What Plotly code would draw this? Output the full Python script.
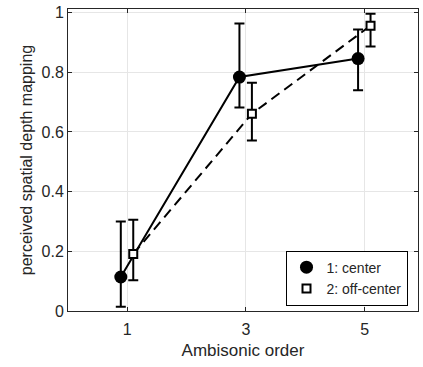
import plotly.graph_objects as go

orders = [1, 3, 5]
center_mean = [0.114, 0.784, 0.846]
center_hi = [0.300, 0.963, 0.943]
center_lo = [0.014, 0.682, 0.740]
off_mean = [0.191, 0.661, 0.956]
off_hi = [0.306, 0.765, 0.996]
off_lo = [0.103, 0.571, 0.886]
names = ["1: center", "2: off-center"]
ytick_vals = [0, 0.2, 0.4, 0.6, 0.8, 1]
xtick_vals = [1, 3, 5]

shift_c = -0.11
shift_o = 0.1
xc = [o + shift_c for o in orders]
xo = [o + shift_o for o in orders]

fig = go.Figure()
fig.add_trace(go.Scatter(
    x=xc, y=center_mean, mode="lines+markers", showlegend=False,
    line=dict(color="black", width=2),
    marker=dict(symbol="circle", size=13, color="black"),
    error_y=dict(type="data", symmetric=False,
                 array=[h - m for h, m in zip(center_hi, center_mean)],
                 arrayminus=[m - l for m, l in zip(center_mean, center_lo)],
                 color="black", thickness=2, width=5),
))
fig.add_trace(go.Scatter(
    x=xo, y=off_mean, mode="lines+markers", showlegend=False,
    line=dict(color="black", width=2, dash="10px,6px"),
    marker=dict(symbol="square", size=8, color="white",
                line=dict(color="black", width=2)),
    error_y=dict(type="data", symmetric=False,
                 array=[h - m for h, m in zip(off_hi, off_mean)],
                 arrayminus=[m - l for m, l in zip(off_mean, off_lo)],
                 color="black", thickness=2, width=5),
))
# legend-only entries (markers only)
fig.add_trace(go.Scatter(x=[None], y=[None], mode="markers", name=names[0],
                         marker=dict(symbol="circle", size=13, color="black")))
fig.add_trace(go.Scatter(x=[None], y=[None], mode="markers", name=names[1],
                         marker=dict(symbol="square", size=8, color="white",
                                     line=dict(color="black", width=2))))

axis_common = dict(showline=True, linecolor="#262626", linewidth=1, mirror="ticks",
                   ticks="inside", ticklen=4, tickcolor="#262626",
                   showgrid=True, gridcolor="#e6e6e6", gridwidth=1, zeroline=False,
                   tickfont=dict(family="Liberation Sans, Arial", size=16, color="#262626"))

fig.update_layout(
    width=423, height=367,
    margin=dict(l=68, r=4, t=6, b=56),
    plot_bgcolor="white", paper_bgcolor="white",
    font=dict(family="Liberation Sans, Arial", color="#262626"),
    xaxis=dict(range=[0, 5.9], tickvals=xtick_vals, ticklabelstandoff=4, **axis_common,
               title=dict(text="Ambisonic order", font=dict(size=17), standoff=6)),
    yaxis=dict(range=[0, 1.012], tickvals=ytick_vals, **axis_common,
               title=dict(text="perceived spatial depth mapping", font=dict(size=16), standoff=4)),
    legend=dict(x=0.97, y=0.2, xanchor="right", yanchor="top",
                bgcolor="white", bordercolor="black", borderwidth=1,
                font=dict(size=14, color="#262626"), itemwidth=30,
                tracegroupgap=0),
)
fig.write_html("out.html")
